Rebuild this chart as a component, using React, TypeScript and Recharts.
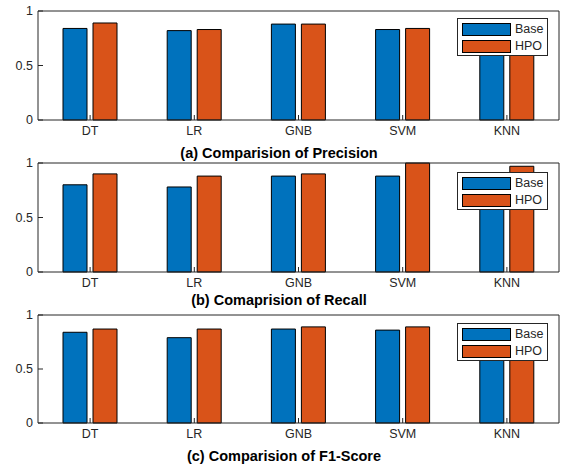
import { Bar, BarChart, XAxis, YAxis } from "recharts";

const models = ["DT", "LR", "GNB", "SVM", "KNN"];
const yTicks = [0, 0.5, 1];

const precisionBase = [0.84, 0.82, 0.88, 0.83, 0.84];
const precisionHpo = [0.89, 0.83, 0.88, 0.84, 0.86];
const recallBase = [0.8, 0.78, 0.88, 0.88, 0.85];
const recallHpo = [0.9, 0.88, 0.9, 1.0, 0.97];
const f1Base = [0.84, 0.79, 0.87, 0.86, 0.84];
const f1Hpo = [0.87, 0.87, 0.89, 0.89, 0.87];

const BLUE = "#0072BD";
const ORANGE = "#D95319";
const AX = "#262626";
const FONT = "'Liberation Sans', Arial, sans-serif";

function MatLegend({ top }: { top: number }) {
  const row = (color: string, label: string) => (
    <div style={{ display: "flex", alignItems: "center", height: 17 }}>
      <div style={{ width: 47, height: 11, background: color, border: "1px solid #000" }} />
      <span style={{ marginLeft: 4, fontSize: 12.5, color: AX }}>{label}</span>
    </div>
  );
  return (
    <div
      style={{
        position: "absolute",
        left: 457,
        top,
        width: 91,
        height: 38,
        border: `1px solid ${AX}`,
        background: "#fff",
        padding: "2px 0 0 4px",
        boxSizing: "border-box",
        fontFamily: FONT,
        lineHeight: 1,
      }}
    >
      {row(BLUE, "Base")}
      {row(ORANGE, "HPO")}
    </div>
  );
}

function Panel({
  top,
  marginTop,
  marginBottom,
  legendTop,
  base,
  hpo,
}: {
  top: number;
  marginTop: number;
  marginBottom: number;
  legendTop: number;
  base: number[];
  hpo: number[];
}) {
  const data = models.map((m, i) => ({ model: m, base: base[i], hpo: hpo[i] }));
  const tickStyle = { fontSize: 12.5, fill: AX, fontFamily: FONT };
  return (
    <div style={{ position: "absolute", left: 0, top, width: 562, height: 150 }}>
      <BarChart
        width={562}
        height={150}
        data={data}
        margin={{ top: marginTop - 1, right: 2, bottom: marginBottom, left: 0 }}
        barSize={24}
        barGap={6}
      >
        <XAxis
          dataKey="model"
          xAxisId="b"
          height={20}
          stroke={AX}
          tickSize={-5}
          tickMargin={11}
          tick={tickStyle}
          interval={0}
        />
        <XAxis dataKey="model" xAxisId="t" orientation="top" height={1} stroke={AX} tickSize={-5} tick={false} interval={0} />
        <YAxis
          yAxisId="l"
          domain={[0, 1]}
          ticks={yTicks}
          width={38}
          stroke={AX}
          tickSize={-5}
          tickMargin={10}
          tick={tickStyle}
        />
        <YAxis yAxisId="r" orientation="right" domain={[0, 1]} ticks={yTicks} width={1} stroke={AX} tickSize={-5} tick={false} />
        <Bar xAxisId="b" yAxisId="l" dataKey="base" name="Base" fill={BLUE} stroke="#000" strokeWidth={1} isAnimationActive={false} />
        <Bar xAxisId="b" yAxisId="l" dataKey="hpo" name="HPO" fill={ORANGE} stroke="#000" strokeWidth={1} isAnimationActive={false} />
      </BarChart>
      <MatLegend top={legendTop} />
    </div>
  );
}

function Title({ y, x, text }: { y: number; x: number; text: string }) {
  return (
    <div
      style={{
        position: "absolute",
        left: x - 150,
        top: y - 9,
        width: 300,
        textAlign: "center",
        fontFamily: FONT,
        fontWeight: "bold",
        fontSize: 14.5,
        color: "#000",
        lineHeight: "18px",
      }}
    >
      {text}
    </div>
  );
}

export default function App() {
  return (
    <div style={{ position: "absolute", left: 0, top: 0, width: 562, height: 468, background: "#fff" }}>
      <Panel top={0} marginTop={11} marginBottom={10} legendTop={18} base={precisionBase} hpo={precisionHpo} />
      <Title x={279} y={153} text="(a) Comparision of Precision" />
      <Panel top={150} marginTop={13} marginBottom={8} legendTop={22} base={recallBase} hpo={recallHpo} />
      <Title x={279} y={300} text="(b) Comaprision of Recall" />
      <Panel top={302} marginTop={13} marginBottom={9} legendTop={21} base={f1Base} hpo={f1Hpo} />
      <Title x={284} y={456} text="(c) Comparision of F1-Score" />
    </div>
  );
}
